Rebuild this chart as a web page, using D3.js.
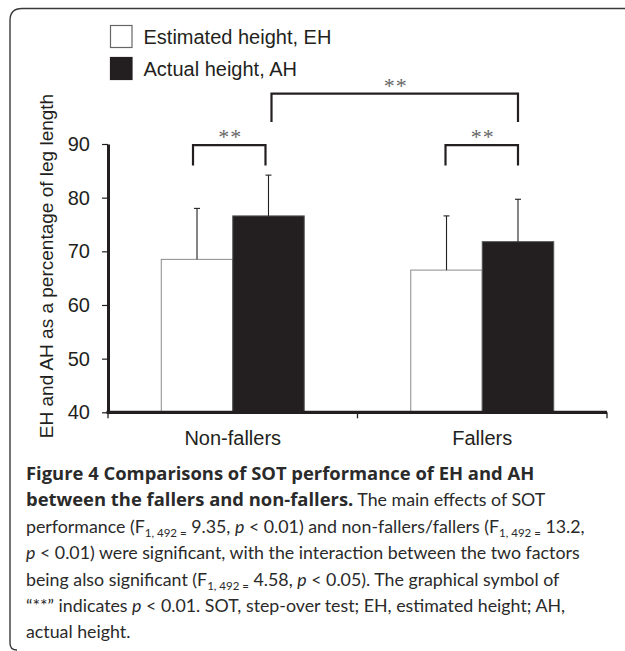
<!DOCTYPE html>
<html>
<head>
<meta charset="utf-8">
<script src="https://cdn.jsdelivr.net/npm/d3@7"></script>
<style>
  html, body { margin: 0; padding: 0; background: #fff; }
  svg { display: block; }
</style>
</head>
<body>
<svg id="chart" width="625" height="651"></svg>
<script>
// ---- data ----
const categories = ["Non-fallers", "Fallers"];
const seriesNames = ["Estimated height, EH", "Actual height, AH"];
const ehValues = [68.5, 66.5];
const ahValues = [76.6, 71.8];
const ehSD = [9.5, 10.1];
const ahSD = [7.6, 7.9];
const yTicks = [40, 50, 60, 70, 80, 90];
const yLabel = "EH and AH as a percentage of leg length";
const sigLabel = "**";
// brackets: [category index a, series a, category index b, series b, top value, leg bottom value]
const brackets = [
  [0, 0, 0, 1, 89.8, 86.0],
  [1, 0, 1, 1, 89.8, 86.0],
  [0, 1, 1, 1, 99.4, 94.1]
];
const captionLines = [
  [["Figure 4 Comparisons of SOT performance of EH and AH", "b"]],
  [["between the fallers and non-fallers.", "b"], [" The main effects of SOT", ""]],
  [["performance (F", ""], ["1, 492 =", "s"], [" 9.35, ", ""], ["p", "i"], [" < 0.01) and non-fallers/fallers (F", ""], ["1, 492 =", "s"], [" 13.2,", ""]],
  [["p", "i"], [" < 0.01) were significant, with the interaction between the two factors", ""]],
  [["being also significant (F", ""], ["1, 492 =", "s"], [" 4.58, ", ""], ["p", "i"], [" < 0.05). The graphical symbol of", ""]],
  [["\u201C**\u201D indicates ", ""], ["p", "i"], [" < 0.01. SOT, step-over test; EH, estimated height; AH,", ""]],
  [["actual height.", ""]]
];

// ---- layout ----
const svg = d3.select("#chart");
const ink = "#231f20";
const chartFont = "'Liberation Sans', Arial, Helvetica, sans-serif";
const capFont = "Lato, 'Open Sans', sans-serif";
const capBoldFont = "'Open Sans', Lato, sans-serif";

// frame
svg.append("path")
  .attr("d", "M625,8.5 L22,8.5 Q10,8.5 10,20.5 L10,643 Q10,650 17,650")
  .attr("fill", "none").attr("stroke", "#3a3a3a").attr("stroke-width", 1.4);

const x0 = 108, x1 = 607, yTop = 144, yBot = 412.3;
const pInner = 0.427;
const x = d3.scaleBand().domain(categories).range([x0, x1])
  .paddingInner(pInner).paddingOuter(pInner / 2);
const xs = d3.scaleBand().domain([0, 1]).range([0, x.bandwidth()]);
const y = d3.scaleLinear().domain([40, 90]).range([yBot, yTop]);

const rows = categories.map((c, i) => ({ c, vals: [ehValues[i], ahValues[i]], sds: [ehSD[i], ahSD[i]] }));

// bars
const g = svg.append("g");
rows.forEach(r => {
  r.vals.forEach((v, j) => {
    g.append("rect")
      .attr("x", x(r.c) + xs(j))
      .attr("y", y(v))
      .attr("width", xs.bandwidth())
      .attr("height", y(40) - y(v))
      .attr("fill", j === 0 ? "#fff" : ink)
      .attr("stroke", j === 0 ? "#8a8a8a" : "#555")
      .attr("stroke-width", 1);
  });
});

// error bars (upper only)
rows.forEach(r => {
  r.vals.forEach((v, j) => {
    const cx = x(r.c) + xs(j) + xs.bandwidth() / 2;
    g.append("line").attr("x1", cx).attr("x2", cx)
      .attr("y1", y(v)).attr("y2", y(v + r.sds[j]))
      .attr("stroke", ink).attr("stroke-width", 1.1);
    g.append("line").attr("x1", cx - 3).attr("x2", cx + 3)
      .attr("y1", y(v + r.sds[j])).attr("y2", y(v + r.sds[j]))
      .attr("stroke", ink).attr("stroke-width", 1.1);
  });
});

// y axis
const yAxis = svg.append("g").attr("transform", `translate(${x0},0)`)
  .call(d3.axisLeft(y).tickValues(yTicks).tickSize(6).tickSizeOuter(0).tickPadding(12));
yAxis.select(".domain").attr("stroke", ink).attr("stroke-width", 3);
yAxis.selectAll(".tick line").attr("stroke", ink).attr("stroke-width", 1.2);
yAxis.selectAll(".tick text").attr("fill", ink)
  .style("font-family", chartFont).style("font-size", "20px");

// x axis
const step = x.step();
const boundaries = d3.range(categories.length + 1).map(i => x0 + i * step);
const xAxis = svg.append("g").attr("transform", `translate(0,${yBot})`);
xAxis.append("line").attr("x1", x0 - 1.5).attr("x2", x1).attr("y1", 0).attr("y2", 0)
  .attr("stroke", ink).attr("stroke-width", 3.2);
xAxis.selectAll("line.bt").data(boundaries).join("line").attr("class", "bt")
  .attr("x1", d => d).attr("x2", d => d).attr("y1", 0).attr("y2", 6)
  .attr("stroke", ink).attr("stroke-width", 1.3);
xAxis.selectAll("text").data(categories).join("text")
  .attr("x", d => x(d) + x.bandwidth() / 2)
  .attr("y", 32.7)
  .attr("text-anchor", "middle")
  .attr("fill", ink)
  .style("font-family", chartFont).style("font-size", "20px")
  .text(d => d);

// y label
svg.append("text")
  .attr("transform", `translate(53,266) rotate(-90)`)
  .attr("text-anchor", "middle")
  .attr("fill", ink)
  .style("font-family", chartFont).style("font-size", "19px")
  .text(yLabel);

// brackets
const barCenter = (ci, sj) => x(categories[ci]) + xs(sj) + xs.bandwidth() / 2;
brackets.forEach((b, k) => {
  const xa = barCenter(b[0], b[1]) + (k === 0 ? -4 : (k === 2 ? 3 : -1));
  const xb = barCenter(b[2], b[3]) + (k === 0 ? -3 : 0);
  const yt = y(b[4]), yl = y(b[5]);
  svg.append("path")
    .attr("d", `M${xa},${yl} L${xa},${yt} L${xb},${yt} L${xb},${yl}`)
    .attr("fill", "none").attr("stroke", ink).attr("stroke-width", 2.2);
  svg.append("text")
    .attr("x", (xa + xb) / 2 + 1)
    .attr("y", yt - 1)
    .attr("text-anchor", "middle")
    .attr("fill", "#666")
    .style("font-family", "'Liberation Serif', 'Times New Roman', serif")
    .style("font-size", "22px")
    .style("letter-spacing", "1px")
    .text(sigLabel);
});

// legend
const leg = svg.append("g");
seriesNames.forEach((s, i) => {
  leg.append("rect")
    .attr("x", 110.5).attr("y", 25.5 + i * 32).attr("width", 21.5).attr("height", 22)
    .attr("fill", i === 0 ? "#fff" : ink)
    .attr("stroke", i === 0 ? "#666" : ink).attr("stroke-width", 1.2);
  leg.append("text")
    .attr("x", 143.5).attr("y", 43.5 + i * 32)
    .attr("fill", ink)
    .style("font-family", chartFont).style("font-size", "20px")
    .text(s);
});

// caption
const cap = svg.append("g");
captionLines.forEach((line, i) => {
  const t = cap.append("text")
    .attr("x", 26).attr("y", 480 + i * 26.4)
    .attr("fill", "#2a2a2a")
    .style("font-family", capFont).style("font-size", "17.8px");
  let shifted = false;
  line.forEach(([txt, st]) => {
    const ts = t.append("tspan").text(txt).attr("xml:space", "preserve");
    if (st === "b") ts.style("font-weight", "bold").style("font-family", capBoldFont).style("font-size", "18.4px");
    if (st === "i") ts.style("font-style", "italic");
    if (st === "s") {
      ts.style("font-size", "11.5px").attr("dy", 4);
      shifted = true;
    } else if (shifted) {
      ts.attr("dy", -4);
      shifted = false;
    }
  });
  t.style("white-space", "pre");
});
</script>
</body>
</html>
